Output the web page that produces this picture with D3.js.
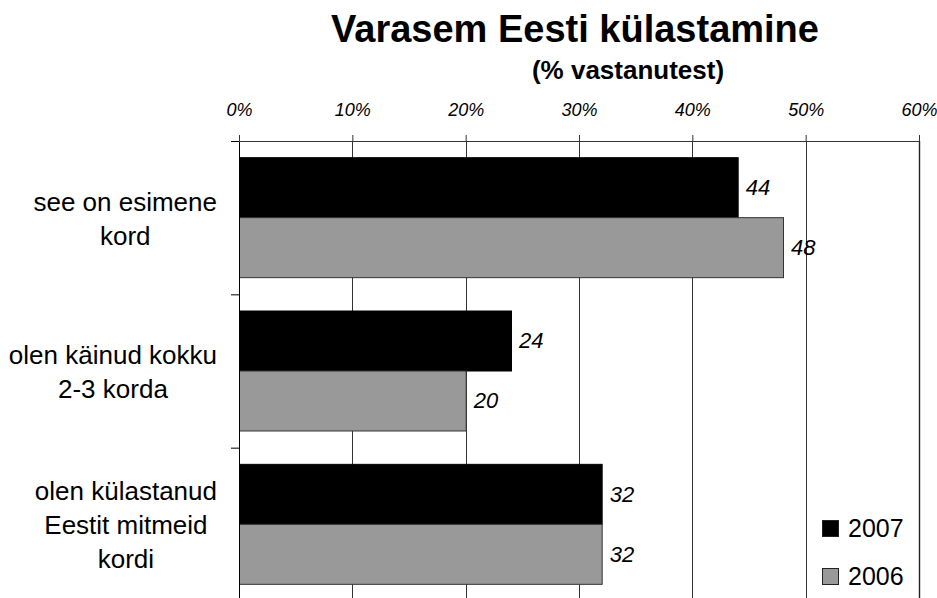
<!DOCTYPE html>
<html>
<head>
<meta charset="utf-8">
<script src="https://cdn.jsdelivr.net/npm/d3@7"></script>
<style>
  body { margin: 0; background: #fff; }
  svg { font-family: Arial, "Liberation Sans", sans-serif; display: block; }
</style>
</head>
<body>
<script>
// categories and series
var categories = ['see on esimene kord', 'olen käinud kokku 2-3 korda', 'olen külastanud Eestit mitmeid kordi'];
var categoryLines = [
  ['see on esimene', 'kord'],
  ['olen käinud kokku', '2-3 korda'],
  ['olen külastanud', 'Eestit mitmeid', 'kordi']
];
var seriesNames = ['2007', '2006'];
var values2007 = [44, 24, 32];
var values2006 = [48, 20, 32];
var xTicks = [0, 10, 20, 30, 40, 50, 60];
var colors = ['#000000', '#999999'];

var width = 937;
var height = 598;

var svg = d3.select('body')
  .append('svg')
  .attr('width', width)
  .attr('height', height);

var x = d3.scaleLinear()
  .domain([0, 60])
  .range([239, 919]);

var plotTop = 141;
var plotBottom = 601;
var y = d3.scaleBand()
  .domain(categories)
  .range([plotTop, plotBottom])
  .padding(0);

var ySeries = d3.scaleBand()
  .domain(seriesNames)
  .range([0, y.bandwidth()])
  .paddingInner(0)
  .paddingOuter(0.278);

//gridlines
svg.append('g')
  .selectAll('line')
  .data(xTicks.slice(1))
  .enter()
  .append('line')
  .attr('x1', function(d) { return Math.round(x(d)) + 0.5; })
  .attr('x2', function(d) { return Math.round(x(d)) + 0.5; })
  .attr('y1', plotTop)
  .attr('y2', height)
  .attr('stroke', function(d) { return d === 60 ? '#222' : '#333'; })
  .attr('stroke-width', function(d) { return d === 60 ? 1.4 : 1; });

//bars
var rows = categories.map(function(c, i) {
  return { cat: c, vals: [values2007[i], values2006[i]] };
});

var groups = svg.selectAll('.cat')
  .data(rows)
  .enter()
  .append('g')
  .attr('class', 'cat')
  .attr('transform', function(d) { return 'translate(0,' + y(d.cat) + ')'; });

groups.selectAll('rect')
  .data(function(d) {
    return d.vals.map(function(v, j) { return { s: seriesNames[j], v: v, j: j }; });
  })
  .enter()
  .append('rect')
  .attr('x', x(0) + 0.5)
  .attr('y', function(d) { return ySeries(d.s); })
  .attr('width', function(d) { return x(d.v) - x(0); })
  .attr('height', ySeries.bandwidth())
  .attr('fill', function(d) { return colors[d.j]; })
  .attr('stroke', function(d) { return d.j === 0 ? '#000' : '#333'; })
  .attr('stroke-width', 1);

groups.selectAll('.val')
  .data(function(d) {
    return d.vals.map(function(v, j) { return { s: seriesNames[j], v: v }; });
  })
  .enter()
  .append('text')
  .attr('class', 'val')
  .attr('x', function(d) { return x(d.v) + 8; })
  .attr('y', function(d) { return ySeries(d.s) + ySeries.bandwidth() / 2; })
  .attr('dy', '0.33em')
  .attr('font-size', '22px')
  .attr('font-style', 'italic')
  .attr('fill', '#000')
  .text(function(d) { return d.v; });

//top axis
var xAxis = d3.axisTop(x)
  .tickValues(xTicks)
  .tickSize(6)
  .tickSizeOuter(0)
  .tickPadding(19)
  .tickFormat(function(d) { return d + '%'; });

var gx = svg.append('g')
  .attr('transform', 'translate(0,' + plotTop + ')')
  .call(xAxis);
gx.selectAll('text')
  .attr('font-size', '18px')
  .attr('font-style', 'italic')
  .attr('font-family', 'Arial, "Liberation Sans", sans-serif')
  .attr('fill', '#000');
gx.selectAll('line, path').attr('stroke', '#333');

//category axis with ticks at the band edges
var yEdges = d3.scaleLinear().domain([0, 3]).range([plotTop, plotBottom]);
var yAxis = d3.axisLeft(yEdges)
  .tickValues([0, 1, 2, 3])
  .tickSize(8)
  .tickSizeOuter(0)
  .tickFormat('');
var gy = svg.append('g')
  .attr('transform', 'translate(' + x(0) + ',0)')
  .call(yAxis);
gy.selectAll('line, path').attr('stroke', '#000');

//category labels, lines centred in a block right-aligned to the axis
var labelRight = 217;
var lineH = 34;
categories.forEach(function(c, i) {
  var lines = categoryLines[i];
  var cy = y(c) + y.bandwidth() / 2;
  var t = svg.append('text')
    .attr('font-size', '26px')
    .attr('fill', '#000')
    .attr('text-anchor', 'middle');
  var spans = lines.map(function(l, k) {
    return t.append('tspan')
      .attr('y', cy + (k - (lines.length - 1) / 2) * lineH + 10)
      .text(l);
  });
  var maxW = d3.max(spans, function(s) { return s.node().getComputedTextLength(); });
  spans.forEach(function(s) { s.attr('x', labelRight - maxW / 2); });
});

//title
svg.append('text')
  .attr('x', 575)
  .attr('y', 42)
  .attr('text-anchor', 'middle')
  .attr('font-size', '38px')
  .attr('font-weight', 'bold')
  .text('Varasem Eesti külastamine');

svg.append('text')
  .attr('x', 628)
  .attr('y', 79)
  .attr('text-anchor', 'middle')
  .attr('font-size', '26px')
  .attr('font-weight', 'bold')
  .text('(% vastanutest)');

//legend
var legend = svg.selectAll('.legend')
  .data(seriesNames)
  .enter()
  .append('g')
  .attr('class', 'legend')
  .attr('transform', function(d, i) { return 'translate(822,' + (520 + i * 48) + ')'; });

legend.append('rect')
  .attr('x', 0.5)
  .attr('y', 0.5)
  .attr('width', 16)
  .attr('height', 16)
  .attr('fill', function(d, i) { return colors[i]; })
  .attr('stroke', '#222');

legend.append('text')
  .attr('x', 26)
  .attr('y', 17)
  .attr('font-size', '25px')
  .attr('fill', '#000')
  .text(function(d) { return d; });
</script>
</body>
</html>
